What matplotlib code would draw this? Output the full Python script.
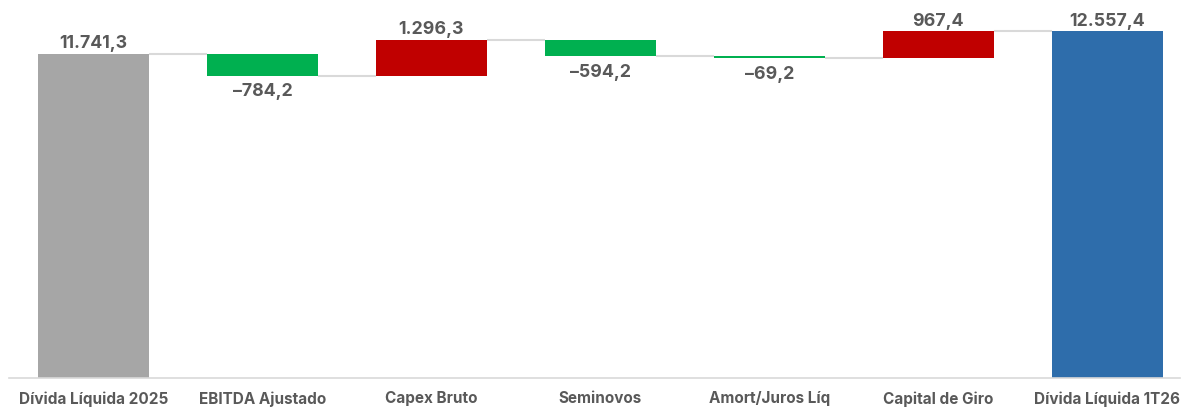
import numpy as np
import matplotlib.pyplot as plt

plt.rcParams['font.family'] = ['Inter', 'DejaVu Sans']

categorias = ['Dívida Líquida 2025', 'EBITDA Ajustado', 'Capex Bruto', 'Seminovos',
              'Amort/Juros Líq', 'Capital de Giro', 'Dívida Líquida 1T26']
inicial = 11741.3
variacoes = [-784.2, 1296.3, -594.2, -69.2, 967.4]
final = 12557.4
rotulos = ['11.741,3', '–784,2', '1.296,3', '–594,2', '–69,2', '967,4', '12.557,4']

cinza = '#a6a6a6'
verde = '#00b050'
vermelho = '#c00000'
azul = '#2e6dab'
cor_texto = '#595959'

fig = plt.figure(figsize=(11.87, 4.10), dpi=100)
ax = fig.add_axes([9 / 1187, 1 - 379 / 410, 1171 / 1187, 379 / 410])

# running totals
niveis = inicial + np.cumsum(variacoes)
antes = np.concatenate([[inicial], niveis[:-1]])

x = np.arange(len(categorias))
w = 0.657

# total bars
ax.bar(x[0], inicial, width=w, color=cinza)
ax.bar(x[-1], final, width=w, color=azul)

# variations
for i, v in enumerate(variacoes):
    cor = verde if v < 0 else vermelho
    ax.bar(x[i + 1], v, bottom=antes[i], width=w, color=cor)

# connectors
topos = np.concatenate([[inicial], niveis])
for i in range(len(categorias) - 1):
    ax.plot([x[i] + w / 2, x[i + 1] - w / 2], [topos[i], topos[i]],
            color='#d9d9d9', lw=1.5, solid_capstyle='butt', zorder=1)

# labels
estilo = dict(ha='center', fontsize=12.8, fontweight='bold', color=cor_texto,
              textcoords='offset points')
ax.annotate(rotulos[0], (x[0], inicial), xytext=(0, 2), va='bottom', **estilo)
ax.annotate(rotulos[-1], (x[-1], final), xytext=(0, 2), va='bottom', **estilo)
for i, v in enumerate(variacoes):
    if v < 0:
        ax.annotate(rotulos[i + 1], (x[i + 1], niveis[i]), xytext=(0, -5),
                    va='top', **estilo)
    else:
        ax.annotate(rotulos[i + 1], (x[i + 1], niveis[i]), xytext=(0, 2),
                    va='bottom', **estilo)

ax.set_xlim(-0.5, 6.43)
ax.set_ylim(0, 13730)
ax.set_xticks(x)
ax.set_xticklabels(categorias, fontsize=11, fontweight='bold', color=cor_texto)
ax.tick_params(axis='x', length=0, pad=9)
ax.set_yticks([])
for s in ['top', 'right', 'left']:
    ax.spines[s].set_visible(False)
ax.spines['bottom'].set_color('#d9d9d9')
ax.spines['bottom'].set_linewidth(1.2)

fig.savefig('out.png', dpi=100)
